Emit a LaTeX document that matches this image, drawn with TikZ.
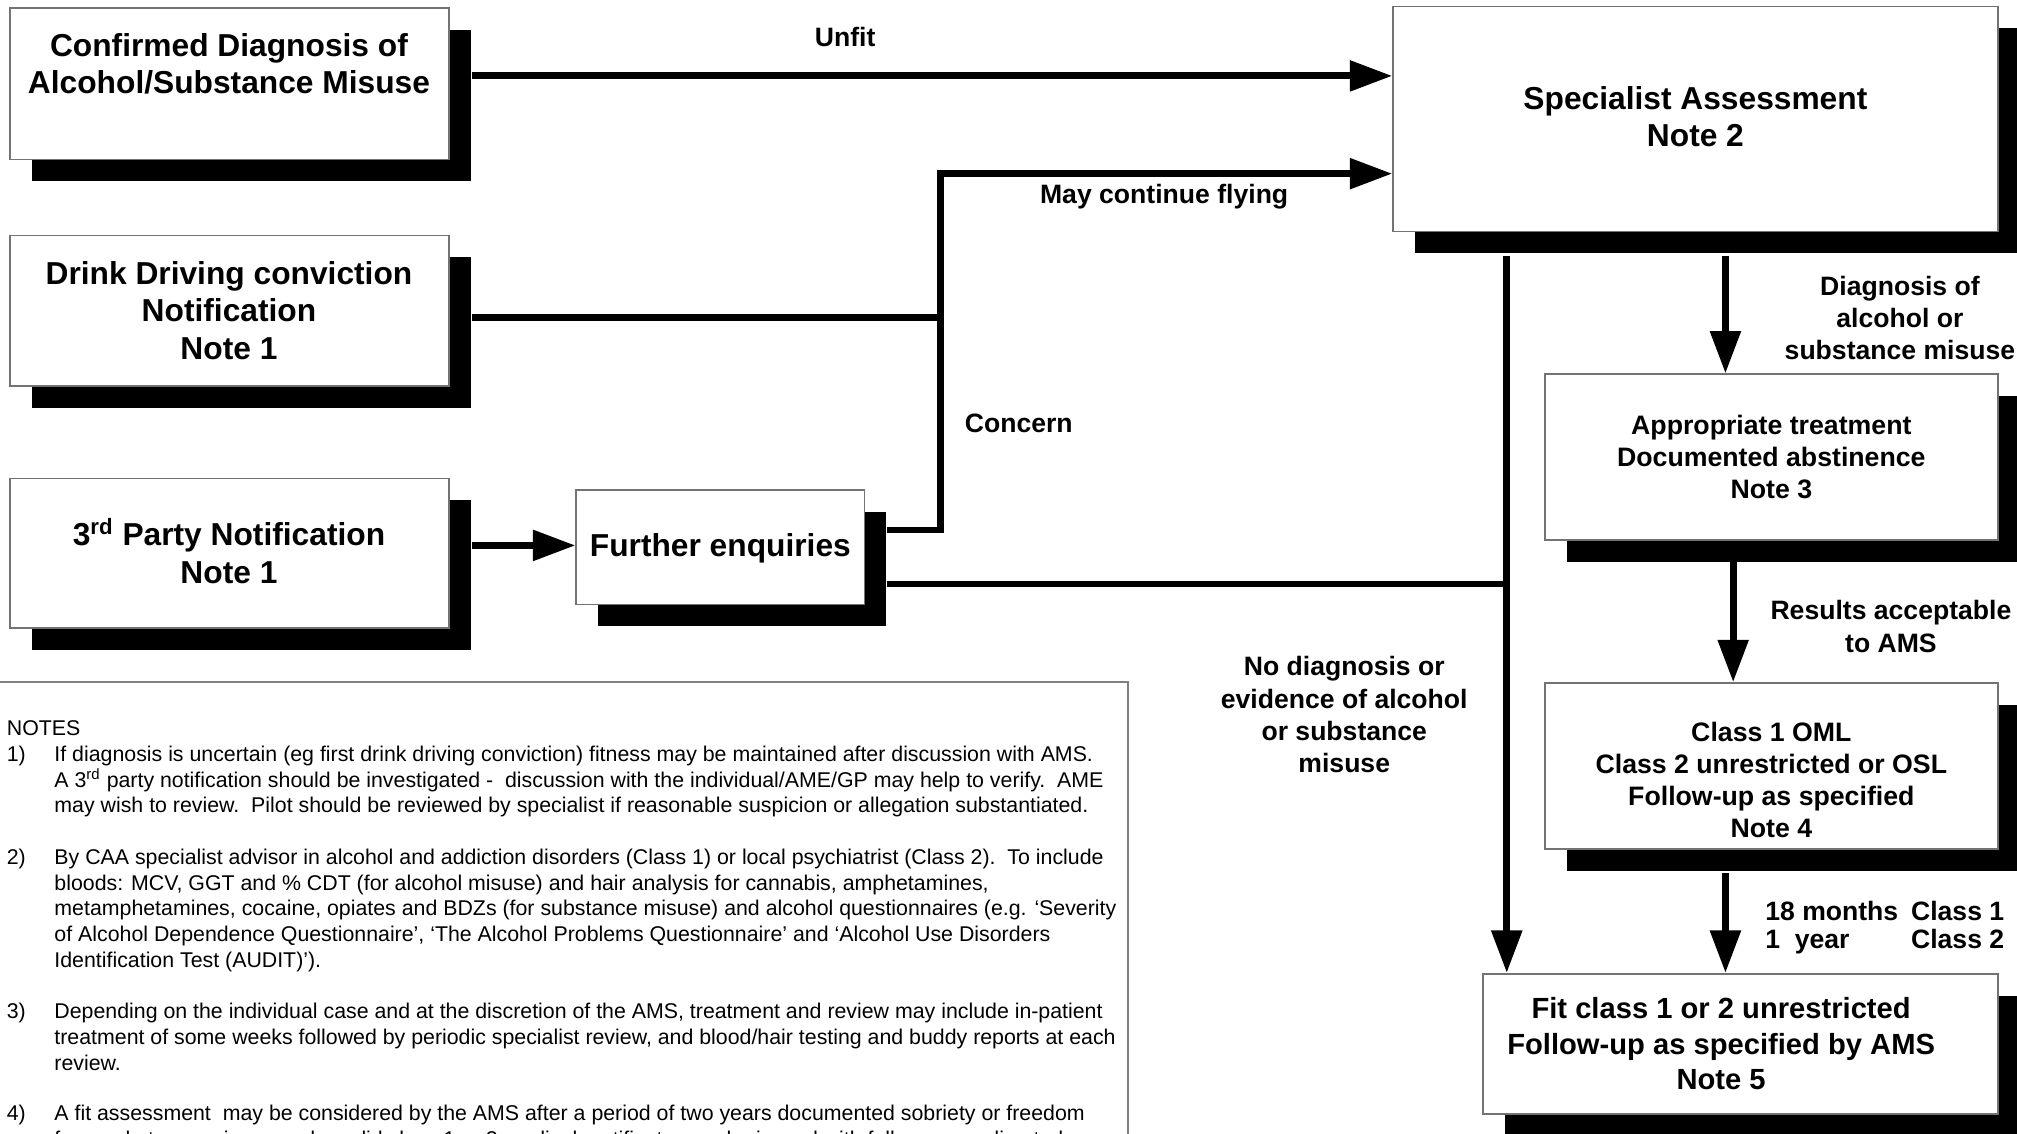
\documentclass[tikz,border=0pt]{standalone}
\usepackage{fontspec}
\setmainfont{Liberation Sans}
\usetikzlibrary{arrows.meta,shadows,fit,calc}
\begin{document}
\begin{tikzpicture}[x=0.6pt,y=-0.6pt,
  boxnode/.style={draw=black!55, line width=0.8pt, fill=white, inner sep=0pt,
    drop shadow={shadow xshift=10.2pt, shadow yshift=-10.2pt, fill=black, opacity=1}},
  bigtext/.style={font=\bfseries\fontsize{14.8}{17.4}\selectfont, align=center, inner sep=0pt},
  midtext/.style={font=\bfseries\fontsize{12.45}{15}\selectfont, align=center, inner sep=0pt},
  htext/.style={font=\bfseries\fontsize{13.6}{16.5}\selectfont, align=center, inner sep=0pt},
  lbl/.style={font=\bfseries\fontsize{12.4}{15}\selectfont, align=center, inner sep=0pt},
  notetext/.style={font=\fontsize{9.95}{12}\selectfont, anchor=base west, inner sep=0pt},
  conn/.style={line width=3.2pt, draw=black},
  arr/.style={conn, -{Triangle[length=19.8pt,width=13.8pt]}}
]
\useasboundingbox (0,0) rectangle (1568,881);
\clip (0,0) rectangle (1568,881);
\fill[white] (0,0) rectangle (1568,881);

% notes frame
\node[draw=black!50, line width=1pt, inner sep=0pt, fit={(-6,530) (877,900)}] (notes) {};

% boxes
\node[boxnode, fit={(8,6) (349,124)}] (A) {};
\node[boxnode, fit={(8,183) (349,300)}] (B) {};
\node[boxnode, fit={(8,372) (349,488)}] (C) {};
\node[boxnode, fit={(448,381) (672,470)}] (D) {};
\node[boxnode, fit={(1083,5) (1553,180)}] (E) {};
\node[boxnode, fit={(1201,291) (1553,420)}] (F) {};
\node[boxnode, fit={(1201,531) (1553,660)}] (G) {};
\node[boxnode, fit={(1153,757) (1553,866)}] (H) {};

% box texts
\node[bigtext] (tA) at (178,49.5) {Confirmed Diagnosis of\\Alcohol/Substance Misuse};
\node[bigtext, font=\bfseries\fontsize{14.8}{17.7}\selectfont] (tB) at (178,241.5) {Drink Driving conviction\\Notification\\Note 1};
\node[bigtext, font=\bfseries\fontsize{14.8}{18}\selectfont] (tC) at (178,428.5) {3\textsuperscript{rd} Party Notification\\Note 1};
\node[bigtext] (tD) at (560,426) {Further enquiries};
\node[bigtext] (tE) at (1318,90.5) {Specialist Assessment\\Note 2};
\node[midtext] (tF) at (1377,355) {Appropriate treatment\\Documented abstinence\\Note 3};
\node[midtext] (tG) at (1377,606.5) {Class 1 OML\\Class 2 unrestricted or OSL\\Follow-up as specified\\Note 4};
\node[htext] (tH) at (1338,811.5) {Fit class 1 or 2 unrestricted\\Follow-up as specified by AMS\\Note 5};

% connectors
\coordinate (a1) at ($(A.east)+(17,-6)$);
\draw[arr] (a1) -- (a1 -| E.west);
\coordinate (jc) at (731,135);
\coordinate (d1) at ($(D.east)+(17,-13.5)$);
\draw[arr] (d1) -| (jc) -- (jc -| E.west);
\coordinate (b1) at ($(B.east)+(17,5.5)$);
\draw[conn] (b1) -- (b1 -| jc);
\coordinate (c1) at ($(C.east)+(17,-6)$);
\draw[arr] (c1) -- (c1 -| D.west);
\coordinate (e1) at ($(E.south west)+(89,18)$);
\draw[arr] (e1) -- (e1 |- H.north);
\coordinate (d2) at ($(D.east)+(17,28.5)$);
\draw[conn] (d2) -- (d2 -| e1);
\coordinate (e2) at ($(E.south west)+(259,18)$);
\draw[arr] (e2) -- (e2 |- F.north);
\coordinate (f1) at ($(F.south west)+(147,0)$);
\draw[arr] (f1) -- (f1 |- G.north);
\coordinate (g1) at ($(G.south west)+(141,18)$);
\draw[arr] (g1) -- (g1 |- H.north);

% labels
\node[lbl] (lUnfit) at (657,29) {Unfit};
\node[lbl] (lMay) at (905,153) {May continue flying};
\node[lbl] (lConcern) at (792,329) {Concern};
\node[lbl] (lNo) at (1045,555.5) {No diagnosis or\\evidence of alcohol\\or substance\\misuse};
\node[lbl] (lDiag) at (1477,247) {Diagnosis of\\alcohol or\\substance misuse};
\node[lbl] (lRes) at (1470,487) {Results acceptable\\to AMS};
\node[lbl, anchor=west] (l18) at (1372,721.5) {\begin{tabular}{@{}l@{\hspace{6pt}}r@{}}18 months & Class 1\\[-1.6pt] 1\ \ year & Class 2\end{tabular}};

% notes
\node[notetext] (nh) at (5,572) {NOTES};
\node[notetext] (n1) at (5,592) {1)};
\node[notetext] (n1a) at (42,592) {If diagnosis is uncertain (eg first drink driving conviction) fitness may be maintained after discussion with AMS.};
\node[notetext] (n1b) at (42,612) {A 3\textsuperscript{rd} party notification should be investigated -\ \ discussion with the individual/AME/GP may help to verify.\ \ AME};
\node[notetext] (n1c) at (42,632) {may wish to review.\ \ Pilot should be reviewed by specialist if reasonable suspicion or allegation substantiated.};
\node[notetext] (n2) at (5,672) {2)};
\node[notetext] (n2a) at (42,672) {By CAA specialist advisor in alcohol and addiction disorders (Class 1) or local psychiatrist (Class 2).\ \ To include};
\node[notetext] (n2b) at (42,692) {bloods: MCV, GGT and \% CDT (for alcohol misuse) and hair analysis for cannabis, amphetamines,};
\node[notetext] (n2c) at (42,712) {metamphetamines, cocaine, opiates and BDZs (for substance misuse) and alcohol questionnaires (e.g. ‘Severity};
\node[notetext] (n2d) at (42,732) {of Alcohol Dependence Questionnaire’, ‘The Alcohol Problems Questionnaire’ and ‘Alcohol Use Disorders};
\node[notetext] (n2e) at (42,752) {Identification Test (AUDIT)’).};
\node[notetext] (n3) at (5,792) {3)};
\node[notetext] (n3a) at (42,792) {Depending on the individual case and at the discretion of the AMS, treatment and review may include in-patient};
\node[notetext] (n3b) at (42,812) {treatment of some weeks followed by periodic specialist review, and blood/hair testing and buddy reports at each};
\node[notetext] (n3c) at (42,832) {review.};
\node[notetext] (n4) at (5,871) {4)};
\node[notetext] (n4a) at (42,871) {A fit assessment\ \ may be considered by the AMS after a period of two years documented sobriety or freedom};
\node[notetext] (n4b) at (42,891) {from substance misuse and a valid class 1 or 2 medical certificate may be issued with follow-up as directed};
\end{tikzpicture}
\end{document}
